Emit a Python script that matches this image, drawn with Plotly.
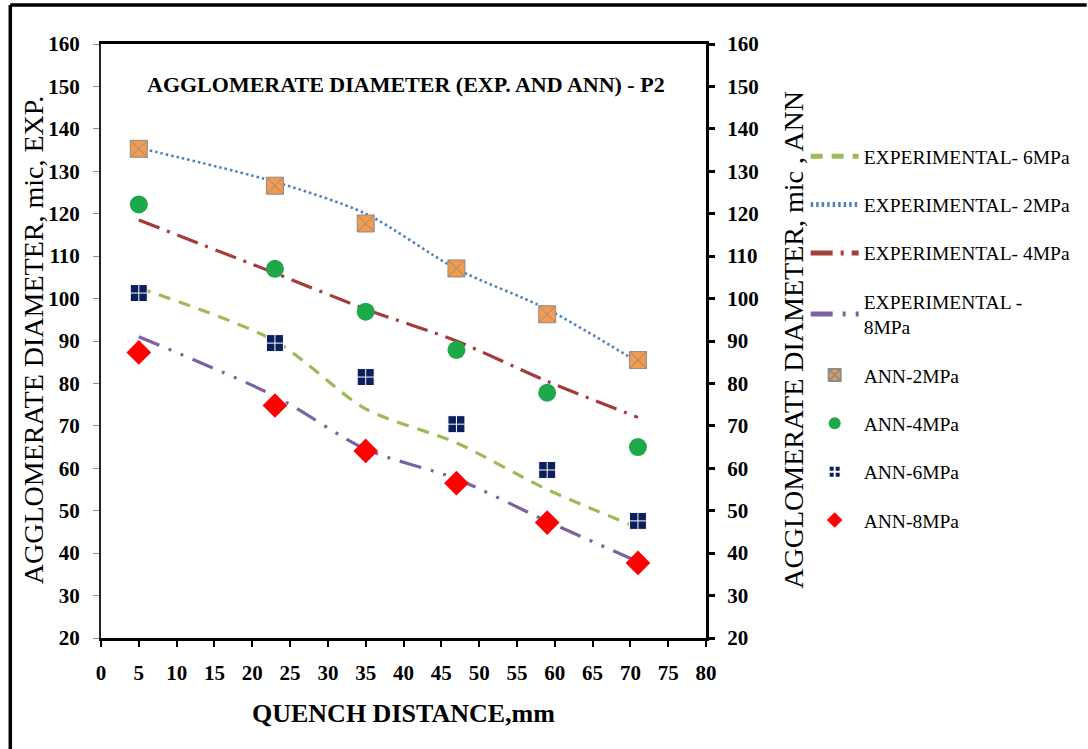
import plotly.graph_objects as go

# ---------------- data ----------------
quench_distance = [5, 23, 35, 47, 59, 71]

exp_2mpa = [135.5, 127.5, 120.0, 107.0, 97.5, 85.0]
exp_4mpa = [118.5, 106.0, 97.5, 90.0, 80.5, 72.0]
exp_6mpa = [102.5, 90.0, 74.0, 66.0, 55.0, 46.0]
exp_8mpa = [91.0, 77.0, 64.5, 57.5, 47.5, 38.0]

ann_2mpa = [135.3, 126.6, 117.7, 107.1, 96.3, 85.5]
ann_4mpa = [122.2, 107.0, 96.9, 87.9, 77.8, 65.0]
ann_6mpa = [101.3, 89.5, 81.5, 70.4, 59.6, 47.6]
ann_8mpa = [87.3, 74.8, 64.1, 56.5, 47.2, 37.7]

x_ticks = list(range(0, 81, 5))
y_ticks = list(range(20, 161, 10))

SERIF = "Liberation Serif"

fig = go.Figure()

def exp_trace(name, y, color, dash, width):
    return go.Scatter(
        x=quench_distance, y=y, name=name, mode="lines",
        line=dict(color=color, dash=dash, width=width, shape="spline", smoothing=0.8),
        legendgroup=name, yaxis="y",
    )

fig.add_trace(exp_trace("EXPERIMENTAL- 6MPa", exp_6mpa, "#9BBB59", "12px,9px", 3.2))
fig.add_trace(exp_trace("EXPERIMENTAL- 2MPa", exp_2mpa, "#4F81BD", "2.5px,3px", 2.6))
fig.add_trace(exp_trace("EXPERIMENTAL- 4MPa", exp_4mpa, "#A23E3A", "22px,8px,3px,8px", 3.2))
fig.add_trace(exp_trace("EXPERIMENTAL -<br>8MPa", exp_8mpa, "#7B62A0",
                        "22px,10px,3px,10px,3px,10px", 3.2))

def ann_trace(name, y, symbol, color, lcolor, lwidth, size):
    return go.Scatter(
        x=quench_distance, y=y, name=name, mode="markers",
        marker=dict(symbol=symbol, color=color, size=size,
                    line=dict(color=lcolor, width=lwidth)),
        legendgroup=name, yaxis="y2",
    )

fig.add_trace(ann_trace("ANN-2MPa", ann_2mpa, "square-x", "#F39A4E", "#8C8C8C", 1, 17))
fig.add_trace(ann_trace("ANN-4MPa", ann_4mpa, "circle", "#1DA84A", "#1DA84A", 0, 18))
fig.add_trace(ann_trace("ANN-6MPa", ann_6mpa, "square-cross", "#0A1F5C", "#FFFFFF", 1, 17))
fig.add_trace(ann_trace("ANN-8MPa", ann_8mpa, "diamond", "#FF0000", "#FF0000", 0, 19))

W, H = 1088, 749
L, R, T, B = 101, 708, 44, 638
pw, ph = R - L, B - T

def px(xp):
    return (xp - L) / pw

def py(yp):
    return (B - yp) / ph

tickfont = dict(family=SERIF, size=21, color="black", weight="bold")

fig.update_layout(
    width=W, height=H,
    margin=dict(l=L, r=W - R, t=T, b=H - B, pad=0),
    paper_bgcolor="white", plot_bgcolor="white",
    font=dict(family=SERIF, color="black"),
    showlegend=True,
    legend=dict(
        x=px(808), y=py(137), xanchor="left", yanchor="top",
        font=dict(family=SERIF, size=19.5, color="black"),
        tracegroupgap=20, itemwidth=48, bgcolor="rgba(0,0,0,0)",
        traceorder="grouped", itemsizing="constant",
    ),
    xaxis=dict(
        range=[0, 80], tickvals=x_ticks, ticktext=[str(v) for v in x_ticks],
        showgrid=False, zeroline=False,
        showline=True, linecolor="black", linewidth=3, mirror=True,
        ticks="outside", ticklen=6, tickwidth=2, tickcolor="black",
        tickfont=tickfont, ticklabelstandoff=8,
    ),
    yaxis=dict(
        range=[20, 160], tickvals=y_ticks,
        showgrid=False, zeroline=False,
        showline=True, linecolor="#222222", linewidth=2,
        ticks="outside", ticklen=6, tickwidth=1, tickcolor="#8C8C8C",
        tickfont=tickfont, ticklabelstandoff=9,
    ),
    yaxis2=dict(
        range=[20, 160], tickvals=y_ticks, overlaying="y", side="right",
        showgrid=False, zeroline=False,
        showline=True, linecolor="black", linewidth=3,
        ticks="outside", ticklen=6, tickwidth=2.5, tickcolor="black",
        tickfont=tickfont, ticklabelstandoff=8,
    ),
    annotations=[
        dict(text="<b>AGGLOMERATE DIAMETER (EXP. AND ANN) - P2</b>",
             x=px(407), y=py(84), xref="paper", yref="paper", showarrow=False,
             xanchor="center", yanchor="middle",
             font=dict(family=SERIF, size=22, color="black")),
        dict(text="AGGLOMERATE DIAMETER, mic, EXP.",
             x=px(33), y=py(340), xref="paper", yref="paper", showarrow=False,
             textangle=-90, xanchor="center", yanchor="middle",
             font=dict(family=SERIF, size=28, color="black")),
        dict(text="AGGLOMERATE DIAMETER, mic , ANN",
             x=px(795), y=py(340), xref="paper", yref="paper", showarrow=False,
             textangle=-90, xanchor="center", yanchor="middle",
             font=dict(family=SERIF, size=28, color="black")),
        dict(text="<b>QUENCH DISTANCE,mm</b>",
             x=px(405), y=py(713), xref="paper", yref="paper", showarrow=False,
             xanchor="center", yanchor="middle",
             font=dict(family=SERIF, size=26, color="black")),
    ],
    shapes=[
        dict(type="line", xref="paper", yref="paper",
             x0=px(10), x1=px(1090), y0=py(5), y1=py(5),
             line=dict(color="black", width=3.5)),
        dict(type="line", xref="paper", yref="paper",
             x0=px(10), x1=px(10), y0=py(5), y1=py(752),
             line=dict(color="black", width=3.5)),
    ],
)

fig.write_html("out.html")
